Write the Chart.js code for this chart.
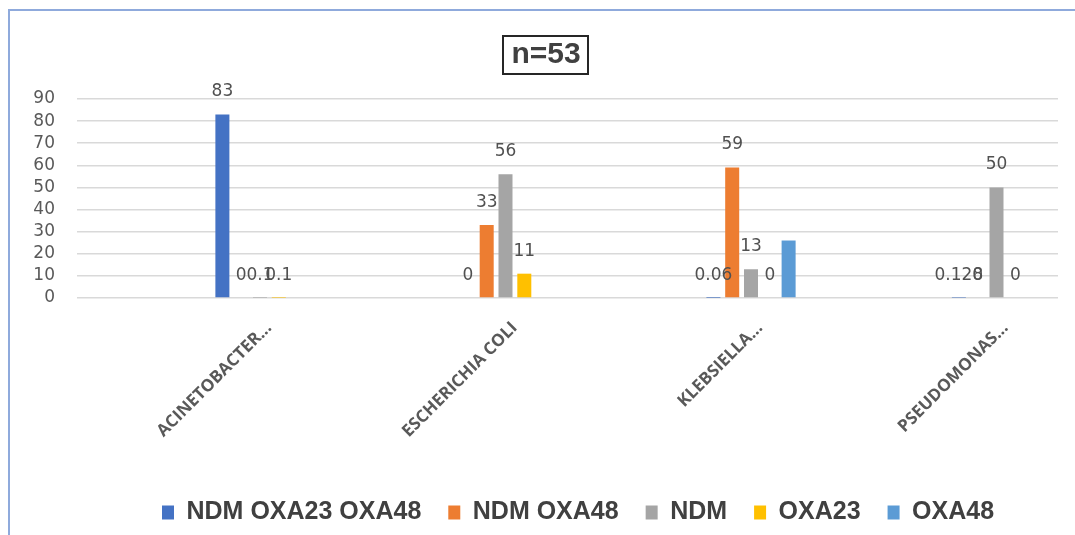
<!DOCTYPE html>
<html>
<head>
<meta charset="utf-8">
<script src="https://cdn.jsdelivr.net/npm/chart.js@4.4.1/dist/chart.umd.min.js"></script>
<style>
  html, body { margin: 0; padding: 0; background: #ffffff; }
  #wrap { position: relative; width: 1075px; height: 535px; }
  canvas { display: block; }
</style>
</head>
<body>
<div id="wrap"><canvas id="chart" width="1075" height="535"></canvas></div>
<script>
// Organisms (category axis) and carbapenemase gene groups (series)
const categories = ['ACINETOBACTER...', 'ESCHERICHIA COLI', 'KLEBSIELLA...', 'PSEUDOMONAS...'];
const seriesNames = ['NDM OXA23 OXA48', 'NDM OXA48', 'NDM', 'OXA23', 'OXA48'];

// Percentages per organism, one array per gene group
const ndmOxa23Oxa48 = [83, 0, 0.06, 0.128];
const ndmOxa48      = [0, 33, 59, 0];
const ndmOnly       = [0.1, 56, 13, 50];
const oxa23Only     = [0.1, 11, 0, 0];
const oxa48Only     = [null, null, 26, null];

const yTickValues = [0, 10, 20, 30, 40, 50, 60, 70, 80, 90];
const titleText = 'n=53';

const seriesValues = [ndmOxa23Oxa48, ndmOxa48, ndmOnly, oxa23Only, oxa48Only];
const seriesColors = ['#4472C4', '#ED7D31', '#A5A5A5', '#FFC000', '#5B9BD5'];
const seriesShowsValues = [true, true, true, true, false];

const datasets = seriesValues.map((vals, s) => ({
  label: seriesNames[s],
  data: vals.map((v, i) => ({ x: i, y: v })).filter(p => p.y !== null),
  backgroundColor: seriesColors[s],
  borderWidth: 0,
  categoryPercentage: 0.383,
  barPercentage: 0.745,
  showValues: seriesShowsValues[s]
}));

// White page, plus the light blue frame edge on the left and top
const framePlugin = {
  id: 'frame',
  beforeDraw(chart) {
    const { ctx, width, height } = chart;
    ctx.save();
    ctx.fillStyle = '#ffffff';
    ctx.fillRect(0, 0, width, height);
    ctx.strokeStyle = '#8faadc';
    ctx.lineWidth = 2;
    ctx.beginPath();
    ctx.moveTo(9, height);
    ctx.lineTo(9, 10);
    ctx.lineTo(width, 10);
    ctx.stroke();
    ctx.restore();
  }
};

// Value labels above each bar
const valueLabelPlugin = {
  id: 'valueLabels',
  afterDatasetsDraw(chart) {
    const { ctx } = chart;
    ctx.save();
    ctx.font = '17px "DejaVu Sans", sans-serif';
    ctx.fillStyle = '#505050';
    ctx.textAlign = 'center';
    ctx.textBaseline = 'middle';
    chart.data.datasets.forEach((ds, di) => {
      if (!ds.showValues) return;
      const meta = chart.getDatasetMeta(di);
      meta.data.forEach((bar, j) => {
        const v = ds.data[j].y;
        ctx.fillText(String(v), bar.x, bar.y - 22.5);
      });
    });
    ctx.restore();
  }
};

// Outline around the chart title
const titleBoxPlugin = {
  id: 'titleBox',
  afterDraw(chart) {
    const tb = chart.titleBlock;
    if (!tb) return;
    const { ctx } = chart;
    const opts = chart.options.plugins.title;
    ctx.save();
    ctx.font = 'bold ' + opts.font.size + 'px ' + opts.font.family;
    const w = ctx.measureText(titleText).width;
    const cx = (tb.left + tb.right) / 2;
    const lh = opts.font.size * opts.font.lineHeight;
    const cy = tb.top + opts.padding.top + lh / 2;
    ctx.strokeStyle = '#262626';
    ctx.lineWidth = 2;
    ctx.strokeRect(Math.round(cx - w / 2 - 8), Math.round(cy - 19), Math.round(w + 16), 38);
    ctx.restore();
  }
};

// Legend sits right of centre in this layout
const legendShiftPlugin = {
  id: 'legendShift',
  afterLayout(chart) {
    const lg = chart.legend;
    if (!lg) return;
    lg.left += 101;
    lg.right += 101;
  }
};

new Chart(document.getElementById('chart'), {
  type: 'bar',
  data: { datasets },
  plugins: [framePlugin, valueLabelPlugin, titleBoxPlugin, legendShiftPlugin],
  options: {
    responsive: false,
    animation: false,
    events: [],
    layout: { padding: { top: 20, left: 34, right: 17, bottom: 0 } },
    scales: {
      x: {
        type: 'linear',
        min: -0.7454,
        max: 3.2505,
        offset: false,
        grid: { display: false },
        border: { display: false },
        afterBuildTicks: (scale) => { scale.ticks = categories.map((_, i) => ({ value: i })); },
        afterFit: (scale) => { scale.height = 175; },
        ticks: {
          autoSkip: false,
          minRotation: 45,
          maxRotation: 45,
          labelOffset: 9,
          padding: 12,
          color: '#595959',
          font: { family: '"Open Sans", sans-serif', size: 17, weight: 'bold' },
          callback: (v) => categories[Math.round(v)]
        }
      },
      y: {
        min: 0,
        max: 90,
        afterBuildTicks: (scale) => { scale.ticks = yTickValues.map(v => ({ value: v })); },
        afterFit: (scale) => { scale.width = 43; },
        grid: { color: '#d9d9d9', lineWidth: 1.5, drawTicks: false },
        border: { display: false },
        ticks: {
          autoSkip: false,
          padding: 22,
          color: '#595959',
          font: { family: '"DejaVu Sans", sans-serif', size: 17 }
        }
      }
    },
    plugins: {
      title: {
        display: true,
        text: titleText,
        color: '#404040',
        font: { family: '"Liberation Sans", Arial, sans-serif', size: 30, weight: 'bold', lineHeight: 1.2 },
        padding: { top: 17, bottom: 26 }
      },
      legend: {
        display: true,
        position: 'bottom',
        align: 'start',
        labels: {
          boxWidth: 12,
          boxHeight: 14,
          padding: 27,
          color: '#404040',
          font: { family: '"Liberation Sans", Arial, sans-serif', size: 25, weight: 'bold' }
        }
      },
      tooltip: { enabled: false }
    }
  }
});
</script>
</body>
</html>
